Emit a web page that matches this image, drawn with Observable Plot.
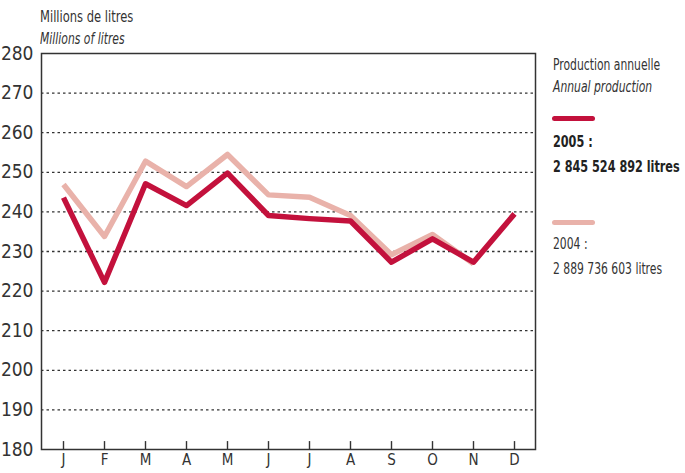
<!DOCTYPE html>
<html>
<head>
<meta charset="utf-8">
<script src="https://cdn.jsdelivr.net/npm/d3@7"></script>
<script src="https://cdn.jsdelivr.net/npm/@observablehq/plot@0.6"></script>
<style>
  html, body { margin: 0; padding: 0; background: #fff; }
  #wrap { position: relative; width: 685px; height: 473px; font-family: "Liberation Sans Narrow", "DejaVu Sans Condensed", sans-serif; color: #333; }
  #chart { position: absolute; left: 0; top: 0; }
  .t { position: absolute; white-space: nowrap; font-size: 15px; line-height: 1; transform: scaleX(0.8); transform-origin: left center; }
  .i { font-style: italic; }
  .b { font-weight: bold; color: #222; font-size: 16px; transform: scaleX(0.78); }
  .sw { position: absolute; height: 5px; border-radius: 3px; width: 43px; }
</style>
</head>
<body>
<div id="wrap">
  <div id="chart"></div>
  <div class="t" style="left:40px; top:9px; font-size:16px;">Millions de litres</div>
  <div class="t i" style="left:40px; top:32px;">Millions of litres</div>
  <div class="t" style="left:553px; top:58px;">Production annuelle</div>
  <div class="t i" style="left:553px; top:80px;">Annual production</div>
  <div class="sw" style="left:552px; top:116px; background:#c3113c;"></div>
  <div class="t b" style="left:553px; top:134px;">2005 :</div>
  <div class="t b" style="left:553px; top:159px;">2 845 524 892 litres</div>
  <div class="sw" style="left:552px; top:220px; background:#e9b2aa;"></div>
  <div class="t" style="left:553px; top:237px;">2004 :</div>
  <div class="t" style="left:553px; top:262px;">2 889 736 603 litres</div>
</div>
<script>
const monthLabels = ["J","F","M","A","M","J","J","A","S","O","N","D"];
const values2005 = [243.6, 222.2, 247.1, 241.6, 249.8, 239.1, 238.3, 237.7, 227.3, 233.2, 227.3, 239.5];
const values2004 = [246.9, 233.8, 252.8, 246.4, 254.5, 244.3, 243.7, 239.1, 229.2, 234.3, 226.9];
const yTicks = [180, 190, 200, 210, 220, 230, 240, 250, 260, 270, 280];
const gridTicks = [190, 200, 210, 220, 230, 240, 250, 260, 270];

const d2005 = values2005.map((v, i) => ({m: i, v}));
const d2004 = values2004.map((v, i) => ({m: i, v}));
const idx = d3.range(monthLabels.length);

const plot = Plot.plot({
  width: 685,
  height: 473,
  marginLeft: 41,
  marginRight: 150,
  marginTop: 53,
  marginBottom: 24,
  style: {fontFamily: '"Liberation Sans Narrow", "DejaVu Sans Condensed", sans-serif', color: "#333", background: "#fff"},
  x: {type: "point", domain: idx, padding: 0.5},
  y: {domain: [180, 280]},
  marks: [
    Plot.ruleY(gridTicks, {stroke: "#333", strokeWidth: 1.3, strokeDasharray: "2.5,3"}),
    Plot.ruleX(idx, {x: d => d, y1: 180, y2: 182, stroke: "#333", strokeWidth: 1.4}),
    Plot.line(d2004, {x: "m", y: "v", stroke: "#e9b2aa", strokeWidth: 5.5, strokeLinejoin: "round", strokeLinecap: "butt"}),
    Plot.line(d2005, {x: "m", y: "v", stroke: "#c3113c", strokeWidth: 5.5, strokeLinejoin: "round", strokeLinecap: "butt"}),
    Plot.frame({stroke: "#333", strokeWidth: 1.5}),
    Plot.axisY(yTicks, {tickSize: 0, tickPadding: 8, fontSize: 19, label: null, fill: "#333"}),
    Plot.axisX(idx, {tickSize: 0, tickPadding: 5, fontSize: 15, label: null, tickFormat: i => monthLabels[i], fill: "#333"})
  ]
});
document.getElementById("chart").appendChild(plot);
</script>
</body>
</html>
